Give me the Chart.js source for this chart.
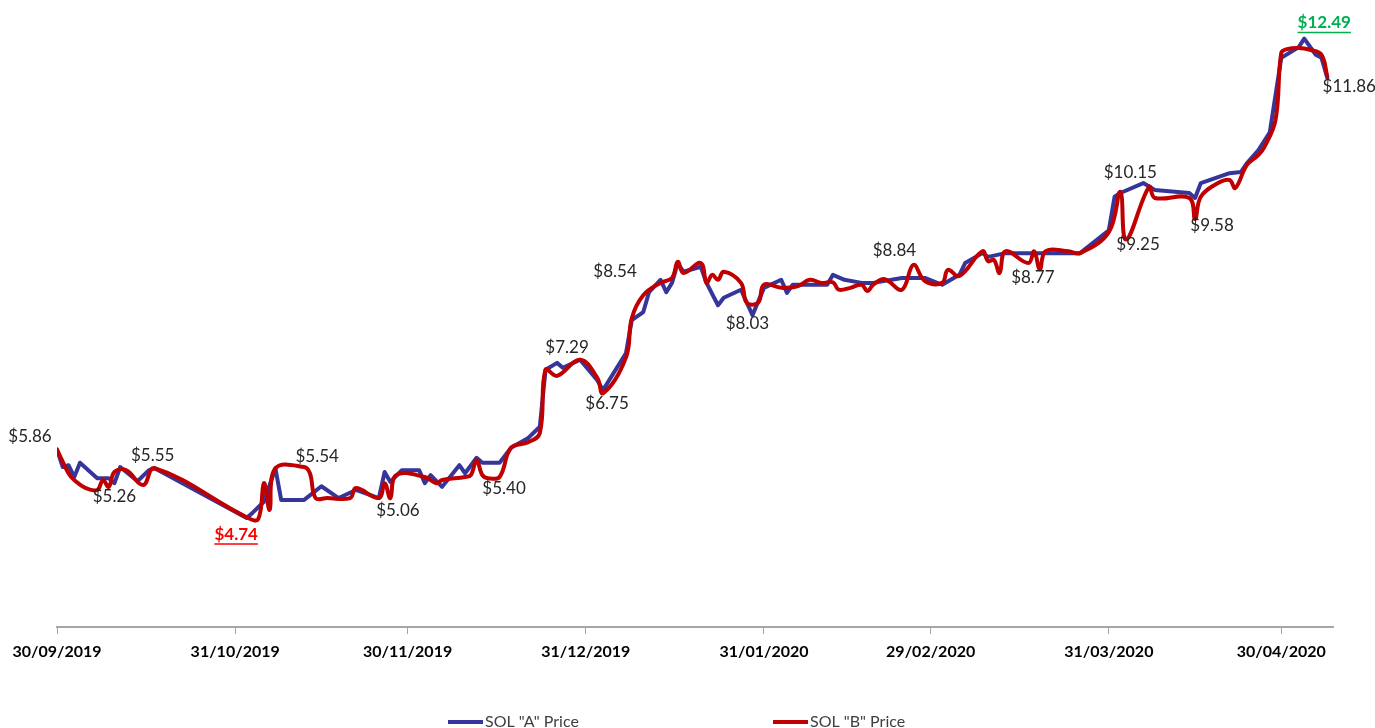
<!DOCTYPE html>
<html>
<head>
<meta charset="utf-8">
<title>SOL "A" vs SOL "B"</title>
<script src="https://cdn.jsdelivr.net/npm/chart.js@4.4.1/dist/chart.umd.min.js"></script>
<style>
  html, body { margin: 0; padding: 0; background: #fff; }
  #caixa { width: 1375px; height: 728px; position: relative; }
</style>
</head>
<body>
<div id="caixa"><canvas id="grafico"></canvas></div>
<script>
// dias contados a partir de 30/09/2019
const marcasDias = [0, 31, 61, 92, 123, 152, 183, 213];
const marcasRotulos = ['30/09/2019', '31/10/2019', '30/11/2019', '31/12/2019',
    '31/01/2020', '29/02/2020', '31/03/2020', '30/04/2020'];

// SOL "A"
const diasA = [0, 1, 2, 3, 4, 7, 9, 10, 11, 14, 16, 17, 33, 34, 36, 38, 39, 43, 46, 49,
    52, 56, 57, 58, 60, 63, 64, 65, 67, 70, 71, 73, 74, 77, 79, 82, 84, 85, 87, 88,
    91, 94, 95, 99, 100, 102, 103, 105, 106, 107, 108, 109, 112, 113, 115, 116, 119, 121, 123, 126,
    127, 128, 131, 134, 135, 137, 140, 142, 147, 151, 154, 157, 158, 161, 162, 165, 170, 178, 183, 184,
    185, 189, 191, 197, 198, 199, 204, 206, 207, 209, 211, 213, 216, 217, 219, 220, 221];
const precosA = [5.86, 5.58, 5.61, 5.42, 5.65, 5.40, 5.40, 5.32, 5.58, 5.35, 5.53, 5.56, 4.76, 4.84, 5.02, 5.56, 5.05, 5.05, 5.27, 5.08,
    5.21, 5.08, 5.50, 5.34, 5.53, 5.53, 5.32, 5.45, 5.26, 5.61, 5.48, 5.73, 5.65, 5.65, 5.89, 6.05, 6.23, 7.15, 7.26, 7.18,
    7.31, 6.98, 6.82, 7.42, 7.95, 8.08, 8.40, 8.60, 8.40, 8.55, 8.87, 8.73, 8.81, 8.55, 8.19, 8.31, 8.44, 8.03, 8.47, 8.60,
    8.39, 8.52, 8.52, 8.52, 8.68, 8.60, 8.55, 8.55, 8.63, 8.63, 8.52, 8.68, 8.87, 9.03, 8.97, 9.03, 9.03, 9.03, 9.40, 9.94,
    10.00, 10.16, 10.05, 10.00, 9.92, 10.16, 10.32, 10.34, 10.48, 10.69, 10.98, 12.18, 12.35, 12.49, 12.23, 12.18, 11.86];

// SOL "B"
const diasB = [0, 2, 3, 5, 7, 8, 9, 10, 12, 15, 17, 33, 35, 36, 37, 38, 43, 44, 45, 47,
    51, 52, 56, 57, 58, 59, 64, 66, 67, 71, 72, 73, 74, 75, 77, 79, 82, 84, 85, 87,
    91, 94, 95, 99, 100, 102, 105, 107, 108, 109, 112, 113, 114, 115, 116, 119, 120, 122, 123, 126,
    128, 129, 131, 133, 135, 136, 138, 140, 141, 142, 144, 147, 149, 151, 154, 155, 157, 161, 162, 163,
    164, 165, 169, 170, 171, 172, 176, 178, 183, 185, 186, 190, 191, 197, 198, 199, 202, 204, 205, 207,
    209, 210, 212, 213, 214, 216, 218, 220, 221];
const precosB = [5.86, 5.48, 5.37, 5.24, 5.21, 5.37, 5.26, 5.50, 5.53, 5.29, 5.56, 4.77, 4.74, 5.32, 4.89, 5.56, 5.58, 5.48, 5.08, 5.08,
    5.08, 5.24, 5.08, 5.32, 5.08, 5.45, 5.42, 5.32, 5.37, 5.42, 5.45, 5.69, 5.45, 5.40, 5.42, 5.89, 5.98, 6.13, 7.15, 7.05,
    7.31, 7.02, 6.77, 7.35, 7.98, 8.35, 8.55, 8.63, 8.89, 8.71, 8.87, 8.55, 8.68, 8.60, 8.73, 8.55, 8.23, 8.23, 8.52, 8.47,
    8.48, 8.50, 8.60, 8.55, 8.56, 8.44, 8.47, 8.52, 8.42, 8.52, 8.61, 8.44, 8.84, 8.58, 8.55, 8.76, 8.66, 9.06, 8.90, 8.92,
    8.71, 9.06, 8.87, 9.06, 8.77, 9.06, 9.06, 9.03, 9.37, 10.02, 9.25, 10.10, 9.92, 9.92, 9.58, 9.94, 10.16, 10.21, 10.08, 10.45,
    10.61, 10.73, 11.18, 12.26, 12.32, 12.34, 12.31, 12.23, 11.88];

// rótulos de preço sobre o gráfico
const rotulosTexto = ['$5.86', '$5.26', '$5.55', '$4.74', '$5.54', '$5.06', '$5.40', '$7.29', '$6.75',
    '$8.54', '$8.03', '$8.84', '$8.77', '$10.15', '$9.25', '$9.58', '$12.49', '$11.86'];
const rotulosDia = [0, 10, 17, 35, 43, 56, 75, 87, 95, 103, 121, 149, 171, 189, 186, 198, 217, 221];
const rotulosValor = [5.86, 5.32, 5.56, 4.74, 5.58, 5.08, 5.40, 7.26, 6.77, 8.40, 8.03, 8.84, 8.77, 10.16, 9.25, 9.58, 12.49, 11.86];

// deslocamento (px) de cada rótulo em relação ao ponto
const rotulosDesloc = [[-27, -13], [0, 13], [-2, -13], [-22, 15], [13, -11], [19, 12], [16, 10], [10, -15], [4, 10],
    [-34, -21], [-5, 8], [-19, -14], [-7, 8], [-13, -11], [12, 5], [17, 6], [20, -16], [22, 9]];
const rotuloDestaque = { '$4.74': '#ff0000', '$12.49': '#00b050' };

const corA = '#35359a';
const corB = '#c00000';

const pontosA = diasA.map((d, i) => ({ x: d, y: precosA[i] }));
const pontosB = diasB.map((d, i) => ({ x: d, y: precosB[i] }));

const pluginRotulos = {
    id: 'rotulos',
    afterDatasetsDraw(chart) {
        const ctx = chart.ctx;
        const sx = chart.scales.x, sy = chart.scales.y;
        ctx.save();
        ctx.textAlign = 'center';
        ctx.textBaseline = 'middle';
        rotulosTexto.forEach((txt, i) => {
            const px = sx.getPixelForValue(rotulosDia[i]) + rotulosDesloc[i][0];
            const py = sy.getPixelForValue(rotulosValor[i]) + rotulosDesloc[i][1];
            const destaque = rotuloDestaque[txt];
            ctx.font = (destaque ? 'bold ' : '') + '17px Lato';
            ctx.fillStyle = destaque || '#262626';
            ctx.fillText(txt, px, py);
            if (destaque) {
                const w = ctx.measureText(txt).width;
                ctx.strokeStyle = destaque;
                ctx.lineWidth = 1.5;
                ctx.beginPath();
                ctx.moveTo(px - w / 2, py + 10);
                ctx.lineTo(px + w / 2, py + 10);
                ctx.stroke();
            }
        });
        ctx.restore();
    }
};

// legenda desenhada à mão (os itens ficam bem afastados no original)
const pluginLegenda = {
    id: 'legenda',
    afterDraw(chart) {
        const ctx = chart.ctx;
        const itens = [['SOL "A" Price', corA, 448], ['SOL "B" Price', corB, 773]];
        ctx.save();
        ctx.font = '16px Lato';
        ctx.textBaseline = 'middle';
        ctx.textAlign = 'left';
        itens.forEach(([txt, cor, x]) => {
            ctx.strokeStyle = cor;
            ctx.lineWidth = 4;
            ctx.beginPath();
            ctx.moveTo(x, 722);
            ctx.lineTo(x + 35, 722);
            ctx.stroke();
            ctx.fillStyle = '#404040';
            ctx.fillText(txt, x + 37, 722);
        });
        ctx.restore();
    }
};

const ctx = document.getElementById('grafico').getContext('2d');
const grafico = new Chart(ctx, {
    type: 'line',
    data: {
        datasets: [{
            label: 'SOL "A" Price',
            data: pontosA,
            borderColor: corA,
            backgroundColor: corA,
            borderWidth: 4,
            tension: 0,
            pointRadius: 0,
            borderJoinStyle: 'round',
            borderCapStyle: 'round',
            order: 2
        }, {
            label: 'SOL "B" Price',
            data: pontosB,
            borderColor: corB,
            backgroundColor: corB,
            borderWidth: 4,
            tension: 0.4,
            pointRadius: 0,
            borderJoinStyle: 'round',
            borderCapStyle: 'round',
            order: 1
        }]
    },
    options: {
        responsive: true,
        maintainAspectRatio: false,
        animation: false,
        layout: { padding: { left: 57, right: 42, top: 7, bottom: 0 } },
        plugins: {
            legend: { display: false },
            tooltip: { enabled: false }
        },
        scales: {
            x: {
                type: 'linear',
                min: 0,
                max: 222,
                afterBuildTicks: (eixo) => { eixo.ticks = marcasDias.map(v => ({ value: v })); },
                afterFit: (eixo) => { eixo.height = 101; },
                ticks: {
                    autoSkip: false,
                    maxRotation: 0,
                    padding: 8,
                    color: '#000',
                    font: { family: 'Lato', size: 16, weight: 'bold' },
                    callback: (v, i) => marcasRotulos[i]
                },
                grid: { drawOnChartArea: false, drawTicks: true, tickLength: 7, color: '#a6a6a6', lineWidth: 1 },
                border: { display: true, color: '#a6a6a6', width: 2 }
            },
            y: {
                display: false,
                min: 3,
                max: 13
            }
        }
    },
    plugins: [pluginRotulos, pluginLegenda]
});
</script>
</body>
</html>
